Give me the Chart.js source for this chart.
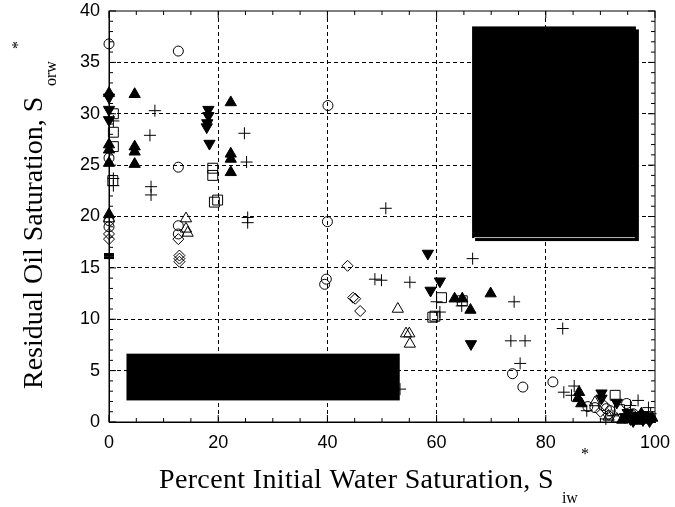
<!DOCTYPE html>
<html>
<head>
<meta charset="utf-8">
<script src="https://cdn.jsdelivr.net/npm/chart.js@4.4.0/dist/chart.umd.min.js"></script>
<style>
  html, body { margin: 0; padding: 0; background: #fff; }
</style>
</head>
<body>
<canvas id="chart" width="675" height="507"></canvas>
<script>
// axis ticks
const xTicks = [0, 20, 40, 60, 80, 100];
const yTicks = [0, 5, 10, 15, 20, 25, 30, 35, 40];

// data, [Swi*, Sorw*]
const openCircles = [
  [0, 36.8], [12.7, 36.1], [0, 25.7], [12.7, 24.8], [0, 19.6], [0, 19.0],
  [12.7, 19.1], [12.7, 18.3], [40.1, 30.8], [40.0, 19.5], [39.8, 13.9],
  [39.5, 13.4], [73.9, 4.7], [75.8, 3.4], [81.3, 3.9], [87.7, 1.5],
  [89.0, 1.4], [90.5, 1.6], [91.1, 1.3], [91.8, 1.1], [94.8, 1.8],
  [96.0, 0.8], [97.5, 0.5]
];
const filledUp = [
  [0, 32.0], [0, 27.0], [0, 26.5], [0, 25.2], [0, 20.2], [4.7, 31.9],
  [4.7, 26.8], [4.7, 26.3], [4.7, 25.1], [22.3, 31.1], [22.3, 26.1],
  [22.3, 25.6], [22.3, 24.3], [63.3, 12.0], [64.7, 12.0], [66.2, 10.9],
  [69.9, 12.5], [86.1, 2.9], [85.9, 2.3], [86.5, 1.8], [95.0, 0.6],
  [96.5, 0.3], [97.5, 0.8], [98.5, 0.2], [99.5, 0.4], [94.0, 0.2], [97.0, 0.1]
];
const filledDown = [
  [0, 31.6], [0, 30.4], [0, 29.4], [18.2, 30.4], [18.2, 29.8], [18.0, 29.1],
  [17.9, 28.7], [18.4, 27.1], [58.4, 16.4], [60.6, 13.7], [58.9, 12.8],
  [66.3, 7.6], [90.2, 2.8], [90.2, 2.3], [93.0, 1.9], [94.5, 0.5],
  [95.5, 0.3], [96.5, 0.6], [97.8, 0.2], [98.5, 0.5], [99.0, 0.1], [96.0, 0.1],
  [95.0, 0.9], [98.0, 0.7]
];
const openSquares = [
  [0.8, 30.0], [0.8, 28.2], [0.8, 26.8], [0.7, 23.5], [19.0, 24.7],
  [19.0, 24.0], [19.3, 21.4], [19.9, 21.6], [60.9, 12.1], [59.7, 10.3],
  [59.3, 10.2], [64.7, 11.8], [92.7, 2.6], [93.5, 1.2], [95.5, 0.6], [97.0, 0.4]
];
const plusPts = [
  [0.8, 29.3], [0.8, 23.7], [0.8, 23.0], [8.4, 30.3], [7.5, 27.9], [7.7, 22.9],
  [7.7, 22.1], [24.8, 28.1], [25.2, 25.3], [25.4, 19.9], [25.4, 19.4],
  [50.7, 20.8], [48.7, 13.9], [49.9, 13.8], [55.1, 13.6], [53.3, 3.2],
  [60.0, 11.7], [60.6, 10.7], [64.6, 11.3], [66.6, 15.9], [74.2, 11.7],
  [83.1, 9.1], [73.6, 7.9], [76.2, 7.9], [75.3, 5.7], [83.3, 2.9], [85.2, 3.5],
  [84.7, 2.6], [87.5, 1.1], [92.3, 0.6], [96.9, 2.1], [98.8, 1.4], [99.2, 0.8],
  [95.5, 1.6], [91.0, 0.3]
];
const openDiamonds = [
  [0, 18.3], [0, 17.8], [12.7, 17.8], [12.9, 16.2], [12.9, 15.9], [12.9, 15.6],
  [43.7, 15.2], [44.7, 12.1], [45.1, 12.0], [46.0, 10.8], [90.0, 1.0], [91.5, 0.7]
];
const openUp = [
  [0, 19.8], [14.1, 19.8], [14.1, 18.8], [14.4, 18.4], [52.9, 11.0],
  [54.4, 8.6], [55.0, 8.6], [55.1, 7.6], [89.0, 1.9], [91.5, 0.5], [93.0, 0.3]
];
const dashPts = [[0, 16.3], [0, 16.0]];

function pts(arr) {
  return arr.map(function (p) { return { x: p[0], y: p[1] }; });
}

const NONE = 'rgba(0,0,0,0)';

function ds(data, style, radius, fill, extra) {
  return Object.assign({
    data: pts(data),
    pointStyle: style,
    pointRadius: radius,
    borderColor: '#000',
    backgroundColor: fill ? '#000' : NONE,
    pointBorderWidth: 1,
    clip: false
  }, extra || {});
}

// scales should not push the plot area in, the layout padding does that
function noScalePadding(s) {
  s.paddingTop = 0; s.paddingBottom = 0; s.paddingLeft = 0; s.paddingRight = 0;
}

// frame, inward ticks, the two covered boxes and axis titles
const framePlugin = {
  id: 'frame',
  beforeDatasetsDraw(chart) {
    const c = chart.ctx, a = chart.chartArea;
    const xs = chart.scales.x, ys = chart.scales.y;
    c.save();
    c.strokeStyle = '#000';
    c.lineWidth = 1;
    c.strokeRect(a.left, a.top, a.right - a.left, a.bottom - a.top);
    c.beginPath();
    for (let v = 0; v <= 100; v += 5) {
      const px = xs.getPixelForValue(v);
      const len = v % 20 === 0 ? 7 : 4;
      c.moveTo(px, a.bottom); c.lineTo(px, a.bottom - len);
      c.moveTo(px, a.top); c.lineTo(px, a.top + len);
    }
    for (let v = 0; v <= 40; v += 1) {
      const py = ys.getPixelForValue(v);
      const len = v % 5 === 0 ? 7 : 4;
      c.moveTo(a.left, py); c.lineTo(a.left + len, py);
      c.moveTo(a.right, py); c.lineTo(a.right - len, py);
    }
    c.stroke();
    c.restore();
  },
  afterDatasetsDraw(chart) {
    const c = chart.ctx;
    const xs = chart.scales.x, ys = chart.scales.y;
    c.save();
    c.fillStyle = '#000';
    // upper right box with a drop shadow
    let x0 = xs.getPixelForValue(66.5), x1 = xs.getPixelForValue(96.5);
    let y0 = ys.getPixelForValue(38.5), y1 = ys.getPixelForValue(17.9);
    c.fillRect(x0 + 3, y0 + 3, x1 - x0, y1 - y0);
    c.fillRect(x0, y0, x1 - x0, y1 - y0);
    c.strokeStyle = '#bbb';
    c.beginPath();
    c.moveTo(x0 + 2, y1 - 0.5); c.lineTo(x1 - 1, y1 - 0.5);
    c.stroke();
    // lower left box
    x0 = xs.getPixelForValue(3.2); x1 = xs.getPixelForValue(53.25);
    y0 = ys.getPixelForValue(6.65); y1 = ys.getPixelForValue(2.1);
    c.fillRect(x0, y0, x1 - x0, y1 - y0);
    c.restore();
  },
  afterDraw(chart) {
    const c = chart.ctx;
    c.save();
    c.fillStyle = '#000';
    c.textBaseline = 'alphabetic';
    c.textAlign = 'left';
    // x title
    c.font = '28px "Liberation Serif"';
    c.letterSpacing = '0.35px';
    const xt = 'Percent Initial Water Saturation, S';
    c.fillText(xt, 159, 488);
    const w = c.measureText(xt).width;
    c.letterSpacing = '0px';
    c.font = '16px "Liberation Serif"';
    c.fillText('iw', 159 + w + 8, 503);
    c.fillText('*', 159 + w + 27, 459);
    // y title
    c.translate(42, 249);
    c.rotate(-Math.PI / 2);
    c.font = '28px "Liberation Serif"';
    const yt = 'Residual Oil Saturation, S';
    c.fillText(yt, -140, 0);
    c.font = '16px "Liberation Serif"';
    c.fillText('orw', 163, 14);
    c.fillText('*', 200, -19);
    c.restore();
  }
};

new Chart(document.getElementById('chart'), {
  type: 'scatter',
  data: {
    datasets: [
      ds(openCircles, 'circle', 5, false),
      ds(filledUp, 'triangle', 6.5, true),
      ds(filledDown, 'triangle', 6.5, true, { pointRotation: 180 }),
      ds(openSquares, 'rect', 7, false),
      ds(plusPts, 'cross', 6, false),
      ds(openDiamonds, 'rectRot', 5.5, false),
      ds(openUp, 'triangle', 6.5, false),
      ds(dashPts, 'line', 5, false, { pointBorderWidth: 3 })
    ]
  },
  options: {
    responsive: false,
    animation: false,
    devicePixelRatio: 1,
    events: [],
    layout: { padding: { left: 0, right: 20, top: 11, bottom: 0 } },
    plugins: { legend: { display: false }, tooltip: { enabled: false } },
    scales: {
      x: {
        type: 'linear', min: 0, max: 100,
        afterBuildTicks: function (s) { s.ticks = xTicks.map(function (v) { return { value: v }; }); },
        afterFit: function (s) { s.height = 85; noScalePadding(s); },
        ticks: { color: '#000', font: { family: '"Liberation Sans"', size: 18 }, padding: 10, maxRotation: 0 },
        grid: {
          drawTicks: false, lineWidth: 1,
          color: function (ctx) { return ctx.tick && (ctx.tick.value === 0 || ctx.tick.value === 100) ? NONE : '#000'; }
        },
        border: { display: true, color: '#000', width: 1, dash: [4, 3] }
      },
      y: {
        type: 'linear', min: 0, max: 40,
        afterBuildTicks: function (s) { s.ticks = yTicks.map(function (v) { return { value: v }; }); },
        afterFit: function (s) { s.width = 109; noScalePadding(s); },
        ticks: { color: '#000', font: { family: '"Liberation Sans"', size: 18 }, padding: 9 },
        grid: {
          drawTicks: false, lineWidth: 1,
          color: function (ctx) { return ctx.tick && (ctx.tick.value === 0 || ctx.tick.value === 40) ? NONE : '#000'; }
        },
        border: { display: true, color: '#000', width: 1, dash: [4, 3] }
      }
    }
  },
  plugins: [framePlugin]
});
</script>
</body>
</html>
